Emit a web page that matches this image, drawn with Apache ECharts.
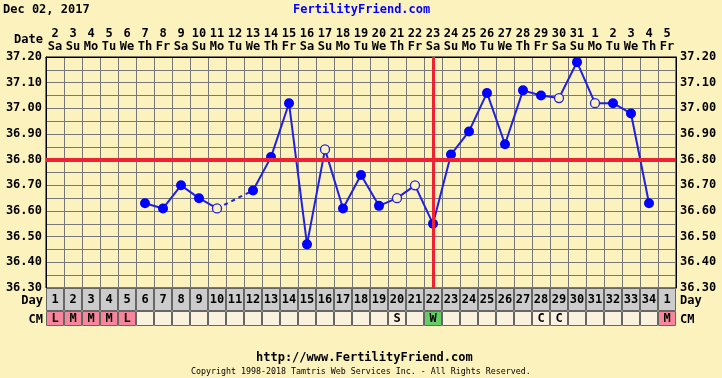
<!DOCTYPE html>
<html>
<head>
<meta charset="utf-8">
<script src="https://cdn.jsdelivr.net/npm/echarts@6/dist/echarts.min.js"></script>
<style>
html,body{margin:0;padding:0;background:#FCF2BE;}
#c{width:722px;height:378px;}
</style>
</head>
<body>
<div id="c"></div>
<script>
// ---- data ----
var dateNums = ['2','3','4','5','6','7','8','9','10','11','12','13','14','15','16','17','18','19','20','21','22','23','24','25','26','27','28','29','30','31','1','2','3','4','5'];
var weekdays = ['Sa','Su','Mo','Tu','We','Th','Fr','Sa','Su','Mo','Tu','We','Th','Fr','Sa','Su','Mo','Tu','We','Th','Fr','Sa','Su','Mo','Tu','We','Th','Fr','Sa','Su','Mo','Tu','We','Th','Fr'];
var dayNums = ['1','2','3','4','5','6','7','8','9','10','11','12','13','14','15','16','17','18','19','20','21','22','23','24','25','26','27','28','29','30','31','32','33','34','1'];
var temps = [null,null,null,null,null,36.63,36.61,36.70,36.65,36.61,null,36.68,36.81,37.02,36.47,36.84,36.61,36.74,36.62,36.65,36.70,36.55,36.82,36.91,37.06,36.86,37.07,37.05,37.04,37.18,37.02,37.02,36.98,36.63,null];
var openPoints = [10,16,20,21,29,31];   // cycle days with open (excluded) circles
var gapBridge = [10,12];                // dashed connection over missing day 11
var cmCodes = ['L','M','M','M','L','','','','','','','','','','','','','','','S','','W','','','','','','C','C','','','','','','M'];
var yTicks = [36.30,36.40,36.50,36.60,36.70,36.80,36.90,37.00,37.10,37.20];
var coverline = 36.80;
var ovulationDay = 22;

// ---- styles ----
var BG = '#FCF2BE', BLUE = '#1F1FE6', DOT = '#0000FF', RED = '#EE2233', GRIDC = '#777777';
var FONT = 'DejaVu Sans Mono';
var cats = dateNums.map(function(d,i){return d+'\n'+weekdays[i];});
var idx = dateNums.map(function(d,i){return i;});

var mainData = temps.map(function(v,i){
  if (v === null) return null;
  var open = openPoints.indexOf(i+1) >= 0;
  return open ? {value:v, symbolSize:9, itemStyle:{color:BG, borderColor:BLUE, borderWidth:1.3}}
              : {value:v, symbolSize:10, itemStyle:{color:DOT, borderColor:DOT, borderWidth:0}};
});
var dashData = temps.map(function(v,i){ return gapBridge.indexOf(i+1)>=0 ? v : null; });

function cmColor(c){ if (c==='L'||c==='M') return '#F7859B'; if (c==='W') return '#66CC66'; return '#FAF2DF'; }

var chart = echarts.init(document.getElementById('c'), null, {renderer:'canvas'});
var L = 46, R = 46;
chart.setOption({
  backgroundColor: BG,
  animation: false,
  textStyle:{fontFamily:FONT},
  grid: [
    {left:L, right:R, top:57, height:231, show:true, backgroundColor:BG, borderColor:'#000', borderWidth:1},
    {left:L, right:R, top:288, height:23},
    {left:L, right:R, top:311, height:15}
  ],
  xAxis: [
    {gridIndex:0, type:'category', data:cats, position:'top', boundaryGap:true,
     axisLine:{show:true, lineStyle:{color:'#000'}}, axisTick:{show:false},
     axisLabel:{interval:0, margin:4, color:'#000', fontFamily:FONT, fontWeight:'bold', fontSize:12, lineHeight:13},
     splitLine:{show:true, interval:0, lineStyle:{color:GRIDC, width:1}}},
    {gridIndex:1, type:'category', data:idx, show:false, boundaryGap:true},
    {gridIndex:2, type:'category', data:idx, show:false, boundaryGap:true}
  ],
  yAxis: [
    {gridIndex:0, type:'value', min:yTicks[0], max:yTicks[yTicks.length-1], interval:0.1, position:'left',
     axisLine:{show:true, lineStyle:{color:'#000'}}, axisTick:{show:false},
     axisLabel:{margin:4, color:'#000', fontFamily:FONT, fontWeight:'bold', fontSize:12, formatter:function(v){return v.toFixed(2);}},
     splitLine:{show:true, lineStyle:{color:GRIDC, width:1}},
     minorTick:{show:false, splitNumber:2}, minorSplitLine:{show:true, lineStyle:{color:GRIDC, width:1}}},
    {gridIndex:0, type:'value', min:yTicks[0], max:yTicks[yTicks.length-1], interval:0.1, position:'right',
     axisLine:{show:true, lineStyle:{color:'#000'}}, axisTick:{show:false},
     axisLabel:{margin:4, color:'#000', fontFamily:FONT, fontWeight:'bold', fontSize:12, formatter:function(v){return v.toFixed(2);}},
     splitLine:{show:false}},
    {gridIndex:1, type:'value', min:0, max:1, show:false},
    {gridIndex:2, type:'value', min:0, max:1, show:false}
  ],
  series: [
    {type:'line', xAxisIndex:0, yAxisIndex:0, data:dashData, connectNulls:true, symbol:'none',
     lineStyle:{color:BLUE, width:2, type:[4,4]}, z:3, silent:true},
    {type:'line', xAxisIndex:0, yAxisIndex:0, data:mainData, connectNulls:false, symbol:'circle',
     lineStyle:{color:BLUE, width:2}, z:4,
     markLine:{silent:true, symbol:'none', label:{show:false}, animation:false,
       data:[{yAxis:coverline, lineStyle:{color:RED, width:4, type:'solid'}},
             {xAxis:ovulationDay-1, lineStyle:{color:RED, width:3, type:'solid'}}]}},
    {type:'bar', xAxisIndex:1, yAxisIndex:2, data:dayNums.map(function(){return 1;}), barWidth:'100%', barCategoryGap:0,
     itemStyle:{color:'#CCCCCC', borderColor:'#666', borderWidth:1}, silent:true,
     label:{show:true, position:'inside', color:'#000', fontFamily:FONT, fontWeight:'bold', fontSize:12,
       formatter:function(p){return dayNums[p.dataIndex];}}},
    {type:'bar', xAxisIndex:2, yAxisIndex:3, barWidth:'100%', barCategoryGap:0, silent:true,
     data:cmCodes.map(function(c){return {value:1, itemStyle:{color:cmColor(c)}};}),
     itemStyle:{borderColor:'#666', borderWidth:1},
     label:{show:true, position:'inside', color:'#000', fontFamily:FONT, fontWeight:'bold', fontSize:12,
       formatter:function(p){return cmCodes[p.dataIndex];}}}
  ],
  graphic: [
    {type:'text', left:3, top:4, style:{text:'Dec 02, 2017', font:'bold 12px "DejaVu Sans Mono"', fill:'#000'}},
    {type:'text', left:293, top:4, style:{text:'FertilityFriend.com', font:'bold 12px "DejaVu Sans Mono"', fill:'#0000FF'}},
    {type:'text', right:679, top:34, style:{text:'Date', font:'bold 12px "DejaVu Sans Mono"', fill:'#000'}},
    {type:'text', right:679, top:295, style:{text:'Day', font:'bold 12px "DejaVu Sans Mono"', fill:'#000'}},
    {type:'text', right:679, top:314, style:{text:'CM', font:'bold 12px "DejaVu Sans Mono"', fill:'#000'}},
    {type:'text', left:680, top:295, style:{text:'Day', font:'bold 12px "DejaVu Sans Mono"', fill:'#000'}},
    {type:'text', left:680, top:314, style:{text:'CM', font:'bold 12px "DejaVu Sans Mono"', fill:'#000'}},
    {type:'text', left:256, top:352, style:{text:'http://www.FertilityFriend.com', font:'bold 12px "DejaVu Sans Mono"', fill:'#000'}},
    {type:'text', left:191, top:368, style:{text:'Copyright 1998-2018 Tamtris Web Services Inc. - All Rights Reserved.', font:'8.3px "DejaVu Sans Mono"', fill:'#000'}}
  ]
});
</script>
</body>
</html>
